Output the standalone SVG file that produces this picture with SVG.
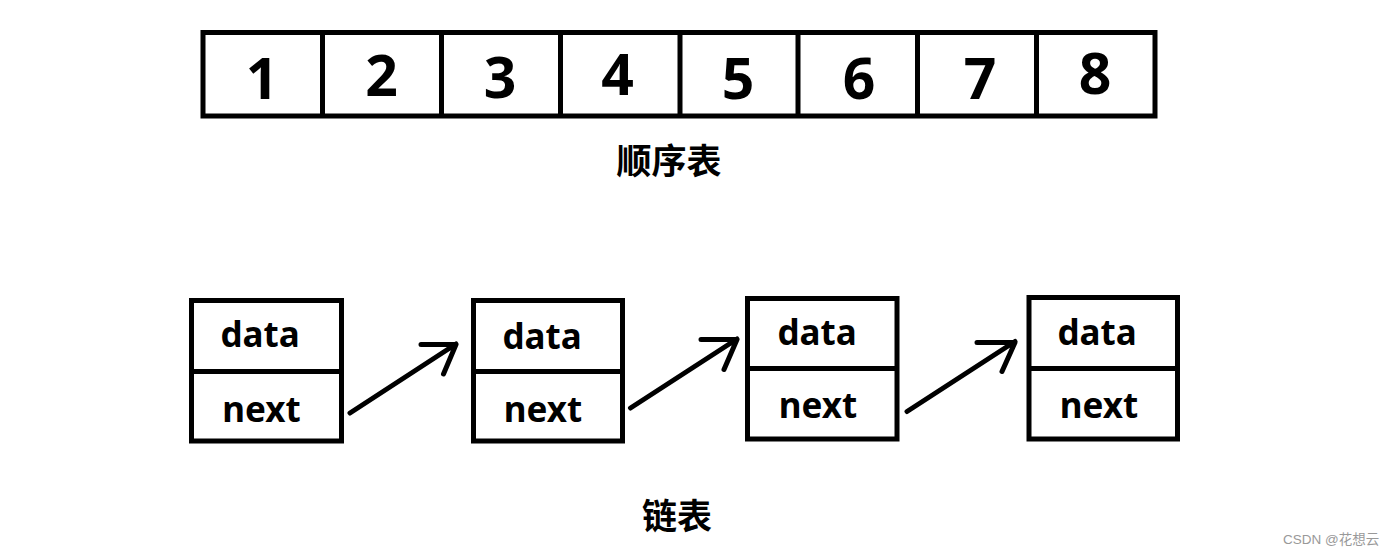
<svg xmlns="http://www.w3.org/2000/svg" width="1399" height="551" viewBox="0 0 1399 551">
<style>
.box{fill:none;stroke:#000;stroke-width:5;}
.dig{font-family:"Noto Sans","DejaVu Sans",sans-serif;font-weight:bold;font-size:57px;text-anchor:middle;fill:#000;}
.fld{font-family:"Noto Sans","DejaVu Sans",sans-serif;font-weight:bold;font-size:35px;text-anchor:middle;fill:#000;}
.cap{font-family:"Noto Sans CJK SC",sans-serif;font-weight:bold;font-size:35px;text-anchor:middle;fill:#000;}
.arr{fill:none;stroke:#000;stroke-width:5;stroke-linecap:round;stroke-linejoin:round;}
.wm{font-family:"Liberation Sans","Noto Sans CJK SC",sans-serif;font-size:13.5px;fill:#999;}
</style>
<rect width="1399" height="551" fill="#fff"/>
<g id="seqlist">
<rect class="box" x="203" y="32.5" width="952" height="83.5"/>
<path class="box" d="M322.5 32.5V116M441.5 32.5V116M560.5 32.5V116M680 32.5V116M798 32.5V116M917.5 32.5V116M1036.5 32.5V116"/>
<text class="dig" x="262" y="99">1</text>
<text class="dig" x="381.5" y="96">2</text>
<text class="dig" x="500" y="98">3</text>
<text class="dig" x="617.5" y="95">4</text>
<text class="dig" x="738" y="99">5</text>
<text class="dig" x="859" y="99">6</text>
<text class="dig" x="980" y="99">7</text>
<text class="dig" x="1095" y="94">8</text>
</g>
<g id="seq-label"><text class="cap" x="669" y="174">顺序表</text></g>
<g id="node1">
<rect class="box" x="191.5" y="300.5" width="150" height="140.5"/>
<line class="box" x1="191.5" y1="371.5" x2="341.5" y2="371.5"/>
<text class="fld" x="260" y="347">data</text>
<text class="fld" x="261.5" y="422">next</text>
</g>
<g id="node2">
<rect class="box" x="473.5" y="300.5" width="149" height="140.5"/>
<line class="box" x1="473.5" y1="371.5" x2="622.5" y2="371.5"/>
<text class="fld" x="542" y="349">data</text>
<text class="fld" x="543" y="422">next</text>
</g>
<g id="node3">
<rect class="box" x="747.5" y="298.5" width="149.5" height="140.5"/>
<line class="box" x1="747.5" y1="368.5" x2="897" y2="368.5"/>
<text class="fld" x="817" y="345">data</text>
<text class="fld" x="818" y="418">next</text>
</g>
<g id="node4">
<rect class="box" x="1029" y="297.5" width="148.5" height="141.5"/>
<line class="box" x1="1029" y1="368.5" x2="1177.5" y2="368.5"/>
<text class="fld" x="1097" y="345">data</text>
<text class="fld" x="1099" y="418">next</text>
</g>
<g id="connectors">
<path class="arr" d="M350 413L456 344M421 344.5H456L443.5 374"/>
<path class="arr" d="M630.5 408L737 339M701 339.5H737L724 369.5"/>
<path class="arr" d="M907 411.5L1015 341.5M977 342.5H1015L1002 371.5"/>
</g>
<g id="list-label"><text class="cap" x="677" y="529">链表</text></g>
<text class="wm" x="1283" y="544">CSDN @花想云</text>
</svg>
